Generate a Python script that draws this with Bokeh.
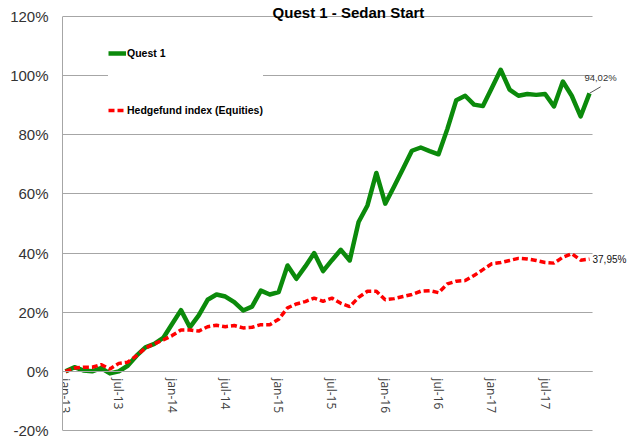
import math
from bokeh.plotting import figure
from bokeh.models import (Range1d, FixedTicker, PrintfTickFormatter, Legend,
                          LegendItem, Label, BoxAnnotation)
from bokeh.embed import file_html
from bokeh.resources import INLINE

# ---------------- data ----------------
months = list(range(60))  # jan-13 .. dec-17

quest1 = [0.0, 1.4, 0.3, 0.0, 1.1, -0.7, 0.0, 1.9, 5.3, 8.1, 9.3, 11.3,
          16.0, 20.7, 14.9, 18.9, 24.2, 26.0, 25.3, 23.4, 20.6, 21.9, 27.3, 26.0,
          26.8, 35.8, 31.3, 35.5, 40.0, 33.9, 37.6, 41.1, 37.5, 50.5, 56.1, 67.1,
          56.7, 62.5, 68.5, 74.6, 75.7, 74.5, 73.4, 82.0, 91.7, 93.2, 90.2, 89.7,
          95.8, 102.0, 95.3, 93.2, 93.8, 93.5, 93.8, 89.6, 98.0, 93.2, 86.2, 94.02]

hedge = [0.0, 1.1, 1.4, 1.4, 2.3, 0.8, 2.7, 3.1, 5.3, 7.9, 9.3, 10.6,
         12.1, 14.0, 14.0, 13.6, 15.1, 15.6, 15.1, 15.5, 14.7, 14.9, 15.8, 15.8,
         17.6, 21.5, 22.8, 23.6, 24.8, 23.7, 24.8, 23.0, 21.9, 25.0, 27.1, 27.1,
         24.2, 24.6, 25.3, 26.0, 27.1, 27.3, 26.6, 29.6, 30.5, 30.7, 32.4, 34.4,
         36.4, 36.8, 37.5, 38.2, 38.0, 37.5, 36.8, 36.6, 38.6, 39.8, 37.6, 37.95]

tick_months = [0, 6, 12, 18, 24, 30, 36, 42, 48, 54]
tick_labels = ["jan-13", "jul-13", "jan-14", "jul-14", "jan-15",
               "jul-15", "jan-16", "jul-16", "jan-17", "jul-17"]
y_ticks = [-20, 0, 20, 40, 60, 80, 100, 120]

series_names = ["Quest 1", "Hedgefund index (Equities)"]
end_labels = ["94,02%", "37,95%"]
title_text = "Quest 1 - Sedan Start"

# ---------------- styles / layout ----------------
GREEN = "#0b8a0b"
RED = "#ff0000"
GRID = "#a6a6a6"
FONT = "Liberation Sans"

X_LO = months[0] - 0.34           # left edge of plot area
X_HI = months[-1] + 0.34          # right edge of the gridded plot area
X_CANVAS_END = X_LO + 566 / 8.881 # frame continues to the canvas edge for labels
Y_LO = y_ticks[0] - 1 / 2.957
Y_HI = y_ticks[-1] + 16 / 2.957

p = figure(width=628, height=439, output_backend="svg", toolbar_location=None,
           x_range=Range1d(X_LO, X_CANVAS_END), y_range=Range1d(Y_LO, Y_HI),
           min_border_left=62, min_border_right=0, min_border_top=0,
           min_border_bottom=8, margin=0)
p.outline_line_color = None
p.background_fill_color = "white"
p.border_fill_color = "white"

# y axis
p.yaxis.ticker = FixedTicker(ticks=y_ticks)
p.yaxis.formatter = PrintfTickFormatter(format="%d%%")
p.yaxis.bounds = (y_ticks[0], y_ticks[-1])
p.yaxis.major_label_text_font = FONT
p.yaxis.major_label_text_font_size = "15px"
p.yaxis.major_label_text_color = "#333333"
p.yaxis.major_tick_line_color = None
p.yaxis.minor_tick_line_color = None
p.yaxis.major_tick_out = 0
p.yaxis.major_label_standoff = 14
p.yaxis.axis_line_color = GRID
p.yaxis.axis_line_width = 1

# x axis drawn on the 0% line
p.xaxis.ticker = FixedTicker(ticks=tick_months)
p.xaxis.major_label_overrides = {m: l for m, l in zip(tick_months, tick_labels)}
p.xaxis.fixed_location = 0
p.xaxis.bounds = (X_LO, X_HI)
p.xaxis.major_label_orientation = -math.pi / 2
p.xaxis.major_label_text_font = "Open Sans"
p.xaxis.major_label_text_font_size = "12px"
p.xaxis.major_label_text_color = "#404040"
p.xaxis.major_tick_line_color = None
p.xaxis.minor_tick_line_color = None
p.xaxis.major_tick_out = 0
p.xaxis.major_label_standoff = 7
p.xaxis.axis_line_color = GRID

p.xgrid.visible = False
p.ygrid.ticker = FixedTicker(ticks=y_ticks)
p.ygrid.grid_line_color = GRID
p.ygrid.grid_line_width = 1.2

# white strip right of the plot area (gridlines stop at the last month)
p.add_layout(BoxAnnotation(left=X_HI, fill_color="white", fill_alpha=1.0,
                           line_color=None, level="underlay"))

r1 = p.line(months, quest1, line_color=GREEN, line_width=4.5, line_join="round")
r2 = p.line(months, hedge, line_color=RED, line_width=3.5, line_dash="6 3")

# leader line + end labels
p.segment(x0=[months[-1]], y0=[quest1[-1]], x1=[months[-1] + 1.25], y1=[quest1[-1] + 2.2],
          line_color="#555555", line_width=1)
p.add_layout(Label(x=months[-1], y=quest1[-1], text=end_labels[0], x_offset=11, y_offset=16,
                   text_align="center", text_baseline="alphabetic",
                   text_font=FONT, text_font_size="9.5px", text_color="#333333"))
p.add_layout(Label(x=months[-1], y=hedge[-1], text=end_labels[1], x_offset=3, y_offset=0,
                   text_align="left", text_baseline="middle",
                   text_font=FONT, text_font_size="10px", text_color="#111111"))

# title at the very top
p.add_layout(Label(x=31.86, y=121.35, text=title_text, text_align="center",
                   text_baseline="alphabetic", text_font=FONT,
                   text_font_style="bold", text_font_size="15px", text_color="#000000"))

legend = Legend(items=[LegendItem(label=series_names[0], renderers=[r1]),
                       LegendItem(label=series_names[1], renderers=[r2])],
                location=(46, 311), orientation="vertical",
                padding=22, spacing=37, glyph_width=18, glyph_height=20,
                label_height=20, label_standoff=1, margin=0,
                label_text_font=FONT, label_text_font_style="bold",
                label_text_font_size="10.5px", label_text_color="#000000",
                border_line_color=None, background_fill_color="white",
                background_fill_alpha=1.0)
p.add_layout(legend)

open("out.html", "w").write(file_html(p, INLINE))
